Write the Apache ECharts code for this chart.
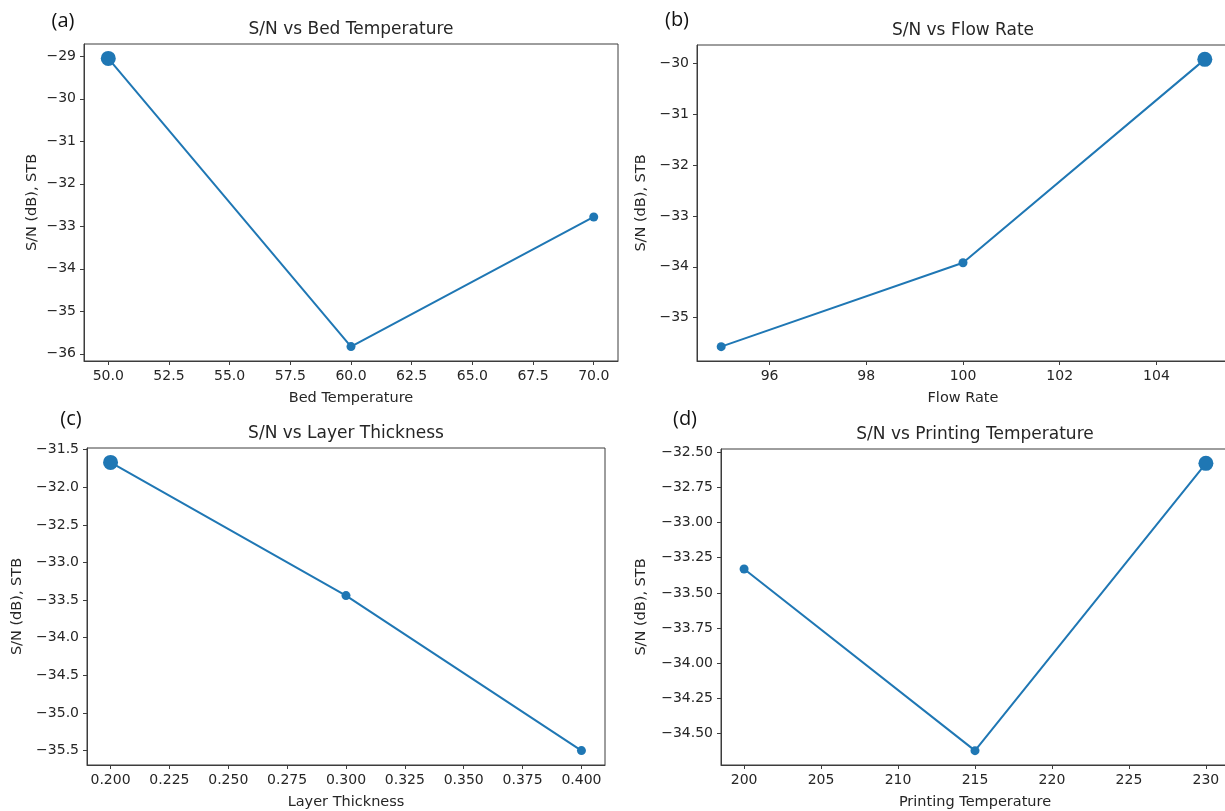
<!DOCTYPE html>
<html>
<head>
<meta charset="utf-8">
<script src="https://cdn.jsdelivr.net/npm/echarts@6/dist/echarts.min.js"></script>
<style>
  html, body { margin: 0; padding: 0; background: #fff; overflow: hidden; }
  /* canvas is slightly wider than the page so the right-hand frames run off the edge */
  #chart { width: 1240px; height: 811px; }
</style>
</head>
<body>
<div id="chart"></div>
<script>
// Signal-to-noise ratios (smaller-the-better) for each process factor level
const bedTemp = [50, 60, 70];
const snBedTemp = [-29.05, -35.83, -32.78];

const flowRate = [95, 100, 105];
const snFlowRate = [-35.57, -33.92, -29.92];

const layerThickness = [0.2, 0.3, 0.4];
const snLayerThickness = [-31.67, -33.44, -35.50];

const printTemp = [200, 215, 230];
const snPrintTemp = [-33.33, -34.62, -32.58];

// Tick positions
const bedTempTicks = [50, 52.5, 55, 57.5, 60, 62.5, 65, 67.5, 70];
const snBedTempTicks = [-36, -35, -34, -33, -32, -31, -30, -29];
const flowRateTicks = [96, 98, 100, 102, 104];
const snFlowRateTicks = [-35, -34, -33, -32, -31, -30];
const layerThicknessTicks = [0.2, 0.225, 0.25, 0.275, 0.3, 0.325, 0.35, 0.375, 0.4];
const snLayerThicknessTicks = [-35.5, -35, -34.5, -34, -33.5, -33, -32.5, -32, -31.5];
const printTempTicks = [200, 205, 210, 215, 220, 225, 230];
const snPrintTempTicks = [-34.5, -34.25, -34, -33.75, -33.5, -33.25, -33, -32.75, -32.5];

const panels = [
  { tag: '(a)', title: 'S/N vs Bed Temperature', xName: 'Bed Temperature',
    x: bedTemp, y: snBedTemp, xTicks: bedTempTicks, yTicks: snBedTempTicks, xDec: 1, yDec: 0,
    grid: { left: 84, top: 44, width: 534, height: 317 }, yGap: 44, tagPos: [63, 21] },
  { tag: '(b)', title: 'S/N vs Flow Rate', xName: 'Flow Rate',
    x: flowRate, y: snFlowRate, xTicks: flowRateTicks, yTicks: snFlowRateTicks, xDec: 0, yDec: 0,
    grid: { left: 697, top: 45, width: 532, height: 316 }, yGap: 48, tagPos: [677, 20] },
  { tag: '(c)', title: 'S/N vs Layer Thickness', xName: 'Layer Thickness',
    x: layerThickness, y: snLayerThickness, xTicks: layerThicknessTicks, yTicks: snLayerThicknessTicks, xDec: 3, yDec: 1,
    grid: { left: 87, top: 448, width: 518, height: 317 }, yGap: 62, tagPos: [71, 419] },
  { tag: '(d)', title: 'S/N vs Printing Temperature', xName: 'Printing Temperature',
    x: printTemp, y: snPrintTemp, xTicks: printTempTicks, yTicks: snPrintTempTicks, xDec: 0, yDec: 2,
    grid: { left: 721, top: 449, width: 508, height: 316 }, yGap: 72, tagPos: [685, 419] }
];

const FONT = 'DejaVu Sans';
const TEXT = '#262626';
const SPINE = '#3c3c3c';
const BLUE = '#1f77b4';

// matplotlib-style 5% data margins
function padded(vals) {
  const lo = Math.min(...vals), hi = Math.max(...vals);
  const m = (hi - lo) * 0.05;
  return [lo - m, hi + m];
}
const minus = s => s.replace('-', '\u2212');

const grids = [], xAxes = [], yAxes = [], series = [], graphics = [];

panels.forEach((p, i) => {
  grids.push(Object.assign({ show: true, borderColor: SPINE, borderWidth: 1, backgroundColor: 'transparent' }, p.grid));
  const [xmin, xmax] = padded(p.x);
  const [ymin, ymax] = padded(p.y);

  xAxes.push({
    type: 'value', gridIndex: i, min: xmin, max: xmax,
    name: p.xName, nameLocation: 'middle', nameGap: 30,
    nameTextStyle: { fontFamily: FONT, fontSize: 14.5, color: TEXT },
    axisLine: { show: true, onZero: false, lineStyle: { color: SPINE, width: 1 } },
    axisTick: { show: true, length: 4, customValues: p.xTicks, lineStyle: { color: SPINE } },
    axisLabel: { customValues: p.xTicks, margin: 8, fontFamily: FONT, fontSize: 14, color: TEXT,
      formatter: v => minus(Number(v).toFixed(p.xDec)) },
    splitLine: { show: false }
  });

  yAxes.push({
    type: 'value', gridIndex: i, min: ymin, max: ymax,
    name: 'S/N (dB), STB', nameLocation: 'middle', nameRotate: 90, nameGap: p.yGap,
    nameTextStyle: { fontFamily: FONT, fontSize: 14.5, color: TEXT },
    axisLine: { show: true, onZero: false, lineStyle: { color: SPINE, width: 1 } },
    axisTick: { show: true, length: 4, customValues: p.yTicks, lineStyle: { color: SPINE } },
    axisLabel: { customValues: p.yTicks, margin: 8, fontFamily: FONT, fontSize: 14, color: TEXT,
      formatter: v => minus(Number(v).toFixed(p.yDec)) },
    splitLine: { show: false }
  });

  const best = Math.max(...p.y);
  series.push({
    type: 'line', xAxisIndex: i, yAxisIndex: i,
    data: p.x.map((xv, k) => [xv, p.y[k]]),
    symbol: 'circle',
    symbolSize: v => (v[1] === best ? 15 : 9),
    showSymbol: true,
    clip: false,
    lineStyle: { color: BLUE, width: 2 },
    itemStyle: { color: BLUE, borderWidth: 0 },
    animation: false
  });

  const g = p.grid;
  graphics.push({
    type: 'text', x: g.left + g.width / 2, y: g.top - 14,
    style: { text: p.title, fontFamily: FONT, fontSize: 17, fill: TEXT, align: 'center', verticalAlign: 'middle' }
  });
  graphics.push({
    type: 'text', x: p.tagPos[0], y: p.tagPos[1],
    style: { text: p.tag, fontFamily: 'Open Sans', fontSize: 20, fill: '#111', align: 'center', verticalAlign: 'middle' }
  });
});

const chart = echarts.init(document.getElementById('chart'), null, { renderer: 'canvas' });
chart.setOption({
  animation: false,
  backgroundColor: '#ffffff',
  grid: grids,
  xAxis: xAxes,
  yAxis: yAxes,
  series: series,
  graphic: graphics
});
</script>
</body>
</html>
